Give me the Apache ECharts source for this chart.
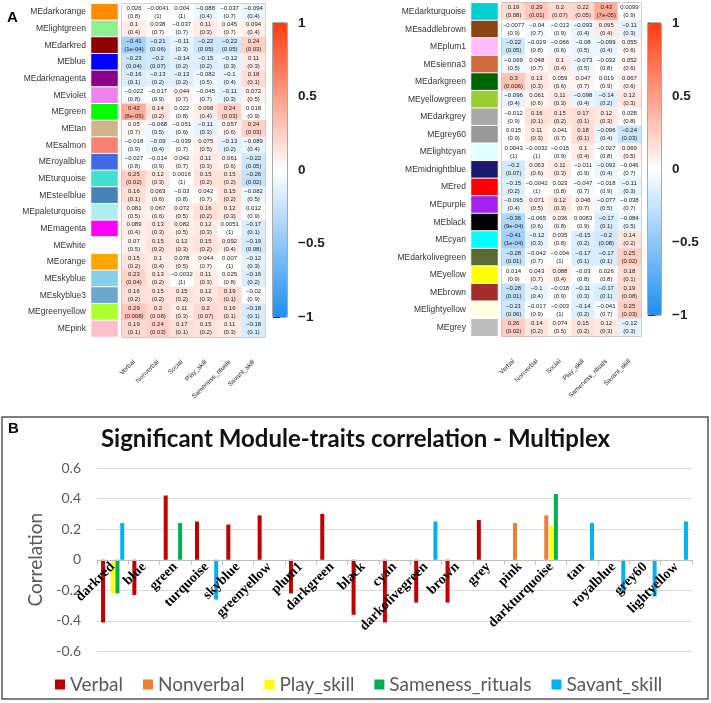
<!DOCTYPE html>
<html><head><meta charset="utf-8">
<script src="https://cdn.jsdelivr.net/npm/echarts@6/dist/echarts.min.js"></script>
<style>html,body{margin:0;padding:0;background:#fff}#c{width:711px;height:703px}</style>
</head><body><div id="c"></div>
<script>
// ---------- Panel A data ----------
const traits = ['Verbal','Nonverbal','Social','Play_skill','Sameness_rituals','Savant_skill'];

const modulesL = ['MEdarkorange','MElightgreen','MEdarkred','MEblue','MEdarkmagenta','MEviolet','MEgreen','MEtan','MEsalmon','MEroyalblue','MEturquoise','MEsteelblue','MEpaleturquoise','MEmagenta','MEwhite','MEorange','MEskyblue','MEskyblue3','MEgreenyellow','MEpink'];
const corL = [
[0.026,-0.0041,0.004,-0.088,-0.037,-0.094],
[0.1,0.038,-0.037,0.11,0.045,0.094],
[-0.41,-0.21,-0.11,-0.22,-0.22,0.24],
[-0.23,-0.2,-0.14,-0.15,-0.12,0.11],
[-0.16,-0.13,-0.13,-0.082,-0.1,0.18],
[-0.022,-0.017,0.044,-0.045,-0.11,0.072],
[0.42,0.14,0.022,0.098,0.24,0.018],
[0.05,-0.068,-0.051,-0.11,0.057,0.24],
[-0.018,-0.09,-0.039,0.075,-0.13,-0.089],
[-0.027,-0.014,0.042,0.11,0.061,-0.22],
[0.25,0.12,0.0016,0.15,0.15,-0.26],
[0.16,0.063,-0.03,0.042,0.15,-0.082],
[0.081,0.067,0.072,0.16,0.12,0.012],
[0.089,0.13,0.082,0.12,0.0051,-0.17],
[0.07,0.15,0.12,0.15,0.092,-0.19],
[0.15,0.1,0.078,0.044,0.007,-0.12],
[0.23,0.13,-0.0032,0.11,0.025,-0.16],
[0.16,0.15,0.15,0.12,0.19,-0.02],
[0.29,0.2,0.11,0.2,0.16,-0.18],
[0.19,0.24,0.17,0.15,0.11,-0.18]];
const pL = [
['0.8','1','1','0.4','0.7','0.4'],
['0.4','0.7','0.7','0.3','0.7','0.4'],
['1e-04','0.06','0.3','0.05','0.05','0.03'],
['0.04','0.07','0.2','0.2','0.3','0.3'],
['0.1','0.2','0.2','0.5','0.4','0.1'],
['0.8','0.9','0.7','0.7','0.3','0.5'],
['8e-05','0.2','0.8','0.4','0.03','0.9'],
['0.7','0.5','0.6','0.3','0.6','0.03'],
['0.9','0.4','0.7','0.5','0.2','0.4'],
['0.8','0.9','0.7','0.3','0.6','0.05'],
['0.02','0.3','1','0.2','0.2','0.02'],
['0.1','0.6','0.8','0.7','0.2','0.5'],
['0.5','0.6','0.5','0.2','0.3','0.9'],
['0.4','0.3','0.5','0.3','1','0.1'],
['0.5','0.2','0.3','0.2','0.4','0.08'],
['0.2','0.4','0.5','0.7','1','0.3'],
['0.04','0.2','1','0.3','0.8','0.2'],
['0.2','0.2','0.2','0.3','0.1','0.9'],
['0.008','0.08','0.3','0.07','0.1','0.1'],
['0.1','0.03','0.1','0.2','0.3','0.1']];

const modulesR = ['MEdarkturquoise','MEsaddlebrown','MEplum1','MEsienna3','MEdarkgreen','MEyellowgreen','MEdarkgrey','MEgrey60','MElightcyan','MEmidnightblue','MEred','MEpurple','MEblack','MEcyan','MEdarkolivegreen','MEyellow','MEbrown','MElightyellow','MEgrey'];
const corR = [
[0.19,0.29,0.2,0.22,0.43,0.0099],
[-0.0077,-0.04,-0.013,-0.093,0.095,-0.11],
[-0.22,-0.029,-0.066,-0.08,-0.099,0.055],
[-0.069,0.048,0.1,-0.073,-0.032,0.052],
[0.3,0.13,0.059,0.047,0.019,0.067],
[-0.096,0.061,0.11,-0.098,-0.14,0.12],
[-0.012,0.16,0.15,0.17,0.12,0.028],
[0.015,0.11,0.041,0.18,-0.096,-0.24],
[0.0043,-0.0032,-0.015,0.1,-0.027,0.069],
[-0.2,0.063,0.11,-0.011,-0.092,-0.046],
[-0.15,-0.0042,0.023,-0.047,-0.018,-0.11],
[-0.095,0.071,0.12,0.046,-0.077,-0.038],
[-0.36,-0.065,0.036,0.0083,-0.17,-0.084],
[-0.41,-0.12,0.035,-0.15,-0.2,0.14],
[-0.28,-0.042,-0.004,-0.17,-0.17,0.25],
[0.014,0.043,0.088,-0.03,0.026,0.18],
[-0.28,-0.1,-0.018,-0.11,-0.17,0.19],
[-0.21,-0.017,-0.003,-0.14,-0.041,0.25],
[0.26,0.14,0.074,0.15,0.12,-0.12]];
const pR = [
['0.08','0.01','0.07','0.05','7e-05','0.9'],
['0.9','0.7','0.9','0.4','0.4','0.3'],
['0.05','0.8','0.6','0.5','0.4','0.6'],
['0.5','0.7','0.4','0.5','0.8','0.6'],
['0.006','0.3','0.6','0.7','0.9','0.6'],
['0.4','0.6','0.3','0.4','0.2','0.3'],
['0.9','0.1','0.2','0.1','0.3','0.8'],
['0.9','0.3','0.7','0.1','0.4','0.03'],
['1','1','0.9','0.4','0.8','0.5'],
['0.07','0.6','0.3','0.9','0.4','0.7'],
['0.2','1','0.8','0.7','0.9','0.3'],
['0.4','0.5','0.3','0.7','0.5','0.7'],
['9e-04','0.6','0.8','0.9','0.1','0.5'],
['1e-04','0.3','0.8','0.2','0.08','0.2'],
['0.01','0.7','1','0.1','0.1','0.02'],
['0.9','0.7','0.4','0.8','0.8','0.1'],
['0.01','0.4','0.9','0.3','0.1','0.08'],
['0.06','0.9','1','0.2','0.7','0.03'],
['0.02','0.2','0.5','0.2','0.3','0.3']];

const colorbarTicks = [-1, -0.5, 0, 0.5, 1];

// ---------- Panel B data ----------
const barCats = ['darkred','blue','green','turquoise','skyblue','greenyellow','plum1','darkgreen','black','cyan','darkolivegreen','brown','grey','pink','darkturquoise','tan','royalblue','grey60','lightyellow'];
const verbal    = [-0.41,-0.23,0.42,0.25,0.23,0.29,-0.22,0.3,-0.36,-0.41,-0.28,-0.28,0.26,null,null,null,null,null,null];
const nonverbal = [null,null,null,null,null,null,null,null,null,null,null,null,null,0.24,0.29,null,null,null,null];
const playSkill = [-0.22,null,null,null,null,null,null,null,null,null,null,null,null,null,0.22,null,null,null,null];
const sameness  = [-0.22,null,0.24,null,null,null,null,null,null,null,null,null,null,null,0.43,null,null,null,null];
const savant    = [0.24,null,null,-0.26,null,null,null,null,null,null,0.25,null,null,null,null,0.24,-0.22,-0.24,0.25];

// R colour names that differ from CSS
const rColor = {green:'#00ff00', skyblue3:'#6ca6cd', plum1:'#ffbbff', sienna3:'#cd6839', grey60:'#999999', purple:'#a020f0', grey:'#bebebe', darkgrey:'#a9a9a9'};
const modColor = m => { const n = m.slice(2); return rColor[n] || n; };

const SANS = 'Liberation Sans, Arial, sans-serif';
const CAL = 'Lato, "Open Sans", sans-serif';
const minus = s => String(s).replace(/-/g, '\u2212');

function cells(cor){ const d=[]; cor.forEach((r,y)=>r.forEach((v,x)=>d.push([x,y,v]))); return d; }
function swatches(mods){ return mods.map((m,i)=>({value:[0,i,i], itemStyle:{color:modColor(m)}})); }

const chart = echarts.init(document.getElementById('c'), null, {renderer:'canvas'});

function heatGridAxes(gi, mods){
  return {
    x:{type:'category', gridIndex:gi, data:traits, position:'bottom',
       axisLine:{show:false}, axisTick:{show:false}, splitLine:{show:false},
       axisLabel:{show:true, rotate:45, interval:0, fontSize:6.5, color:'#222', fontFamily:SANS, margin:24}},
    y:{type:'category', gridIndex:gi, data:mods, inverse:true, show:false}
  };
}
function swatchAxes(gi, mods){
  return {
    x:{type:'category', gridIndex:gi, data:['c'], show:false},
    y:{type:'category', gridIndex:gi, data:mods, inverse:true,
       axisLine:{show:false}, axisTick:{show:false},
       axisLabel:{interval:0, fontSize:8.5, color:'#333', fontFamily:SANS, margin:5}}
  };
}
const aL = swatchAxes(0, modulesL), hL = heatGridAxes(1, modulesL);
const aR = swatchAxes(2, modulesR), hR = heatGridAxes(3, modulesR);

function cbAxes(gi){
  return {
    x:{type:'value', gridIndex:gi, show:false, min:0, max:1},
    y:{type:'value', gridIndex:gi, min:colorbarTicks[0], max:colorbarTicks[colorbarTicks.length-1], interval:0.5, position:'right',
       axisLine:{show:false}, splitLine:{show:false},
       axisTick:{show:true, length:7, lineStyle:{color:'#333', width:1}},
       axisLabel:{fontSize:13.5, fontWeight:'bold', color:'#222', fontFamily:SANS, margin:11, formatter:v=>minus(v)}}
  };
}
const cL = cbAxes(5), cR = cbAxes(6);

const heatLabel = P => ({show:true, fontSize:6, lineHeight:8, color:'#222', fontFamily:SANS,
  formatter: p => minus(p.data[2]) + '\n(' + P[p.data[1]][p.data[0]] + ')'});

const barColors = ['#c00000','#ed7d31','#ffff00','#00b050','#00b0f0'];
const barNames = ['Verbal','Nonverbal','Play_skill','Sameness_rituals','Savant_skill'];
const barData = [verbal, nonverbal, playSkill, sameness, savant];

const G = o => Object.assign({outerBoundsMode:'none', containLabel:false}, o);
const barGrid = {left:97, top:468, width:595, height:183.5};

const option = {
  animation:false,
  backgroundColor:'#fff',
  title:{text:'Significant Module-traits correlation - Multiplex', left:'center', top:422,
    textStyle:{fontSize:24, fontWeight:'bold', color:'#111', fontFamily:CAL}},
  grid:[
    G({left:91, top:3.7, width:27, height:333.3}),
    G({left:122, top:3.7, width:143.5, height:333.3, show:true, borderColor:'#888', borderWidth:1, backgroundColor:'transparent'}),
    G({left:471, top:2.9, width:27, height:333.4}),
    G({left:502, top:2.9, width:139, height:333.4, show:true, borderColor:'#888', borderWidth:1, backgroundColor:'transparent'}),
    G(barGrid),
    G({left:273, top:23, width:14, height:294, show:true, borderColor:'#555', borderWidth:1, backgroundColor:'transparent'}),
    G({left:648, top:23, width:13, height:292, show:true, borderColor:'#555', borderWidth:1, backgroundColor:'transparent'})
  ],
  xAxis:[aL.x, hL.x, aR.x, hR.x,
    {type:'category', gridIndex:4, data:barCats, z:10, position:'bottom', offset:-barGrid.height/2,
     axisLine:{onZero:false, lineStyle:{color:'#bfbfbf', width:1}},
     axisTick:{show:true, length:5, lineStyle:{color:'#bfbfbf'}},
     axisLabel:{rotate:45, interval:0, fontSize:14, fontWeight:'bold', color:'#000', fontFamily:'Liberation Serif, serif', margin:5}},
    cL.x, cR.x],
  yAxis:[aL.y, hL.y, aR.y, hR.y,
    {type:'value', gridIndex:4, min:-0.6, max:0.6, interval:0.2,
     axisLine:{show:false}, axisTick:{show:false},
     splitLine:{lineStyle:{color:'#d9d9d9', width:1}},
     axisLabel:{fontSize:14, color:'#595959', fontFamily:CAL, margin:16},
     name:'Correlation', nameLocation:'middle', nameGap:50,
     nameTextStyle:{fontSize:19, color:'#595959', fontFamily:CAL}},
    cL.y, cR.y],
  visualMap:[
    {type:'continuous', min:-1, max:1, seriesIndex:1, calculable:false, text:null,
     inRange:{color:['#1e8ff0','#ffffff','#ff3c0f']}, left:273, top:23, itemWidth:14, itemHeight:294, padding:0, hoverLink:false},
    {type:'continuous', min:-1, max:1, seriesIndex:3, calculable:false, text:null,
     inRange:{color:['#1e8ff0','#ffffff','#ff3c0f']}, left:648, top:23, itemWidth:13, itemHeight:292, padding:0, hoverLink:false}
  ],
  legend:{data:barNames, left:50, top:670, icon:'rect', itemWidth:10, itemHeight:10, itemGap:20,
    textStyle:{fontSize:19, color:'#595959', fontFamily:CAL}},
  graphic:[
    {type:'rect', shape:{x:2, y:417, width:706, height:282}, style:{fill:'none', stroke:'#555', lineWidth:1.5}, z:-1},
    {type:'text', left:7, top:10, style:{text:'A', fontSize:15, fontWeight:'bold', fill:'#000', fontFamily:SANS}},
    {type:'text', left:8, top:421, style:{text:'B', fontSize:15, fontWeight:'bold', fill:'#000', fontFamily:SANS}}
  ],
  series:[
    {type:'heatmap', xAxisIndex:0, yAxisIndex:0, data:swatches(modulesL), itemStyle:{borderColor:'#fff', borderWidth:1}, emphasis:{disabled:true}},
    {type:'heatmap', xAxisIndex:1, yAxisIndex:1, data:cells(corL), label:heatLabel(pL), emphasis:{disabled:true}},
    {type:'heatmap', xAxisIndex:2, yAxisIndex:2, data:swatches(modulesR), itemStyle:{borderColor:'#fff', borderWidth:1}, emphasis:{disabled:true}},
    {type:'heatmap', xAxisIndex:3, yAxisIndex:3, data:cells(corR), label:heatLabel(pR), emphasis:{disabled:true}},
  ].concat(barNames.map((n,i)=>({
    type:'bar', name:n, xAxisIndex:4, yAxisIndex:4, data:barData[i],
    itemStyle:{color:barColors[i]}, barWidth:4, barGap:'20%'
  })))
};
chart.setOption(option);
</script></body></html>
